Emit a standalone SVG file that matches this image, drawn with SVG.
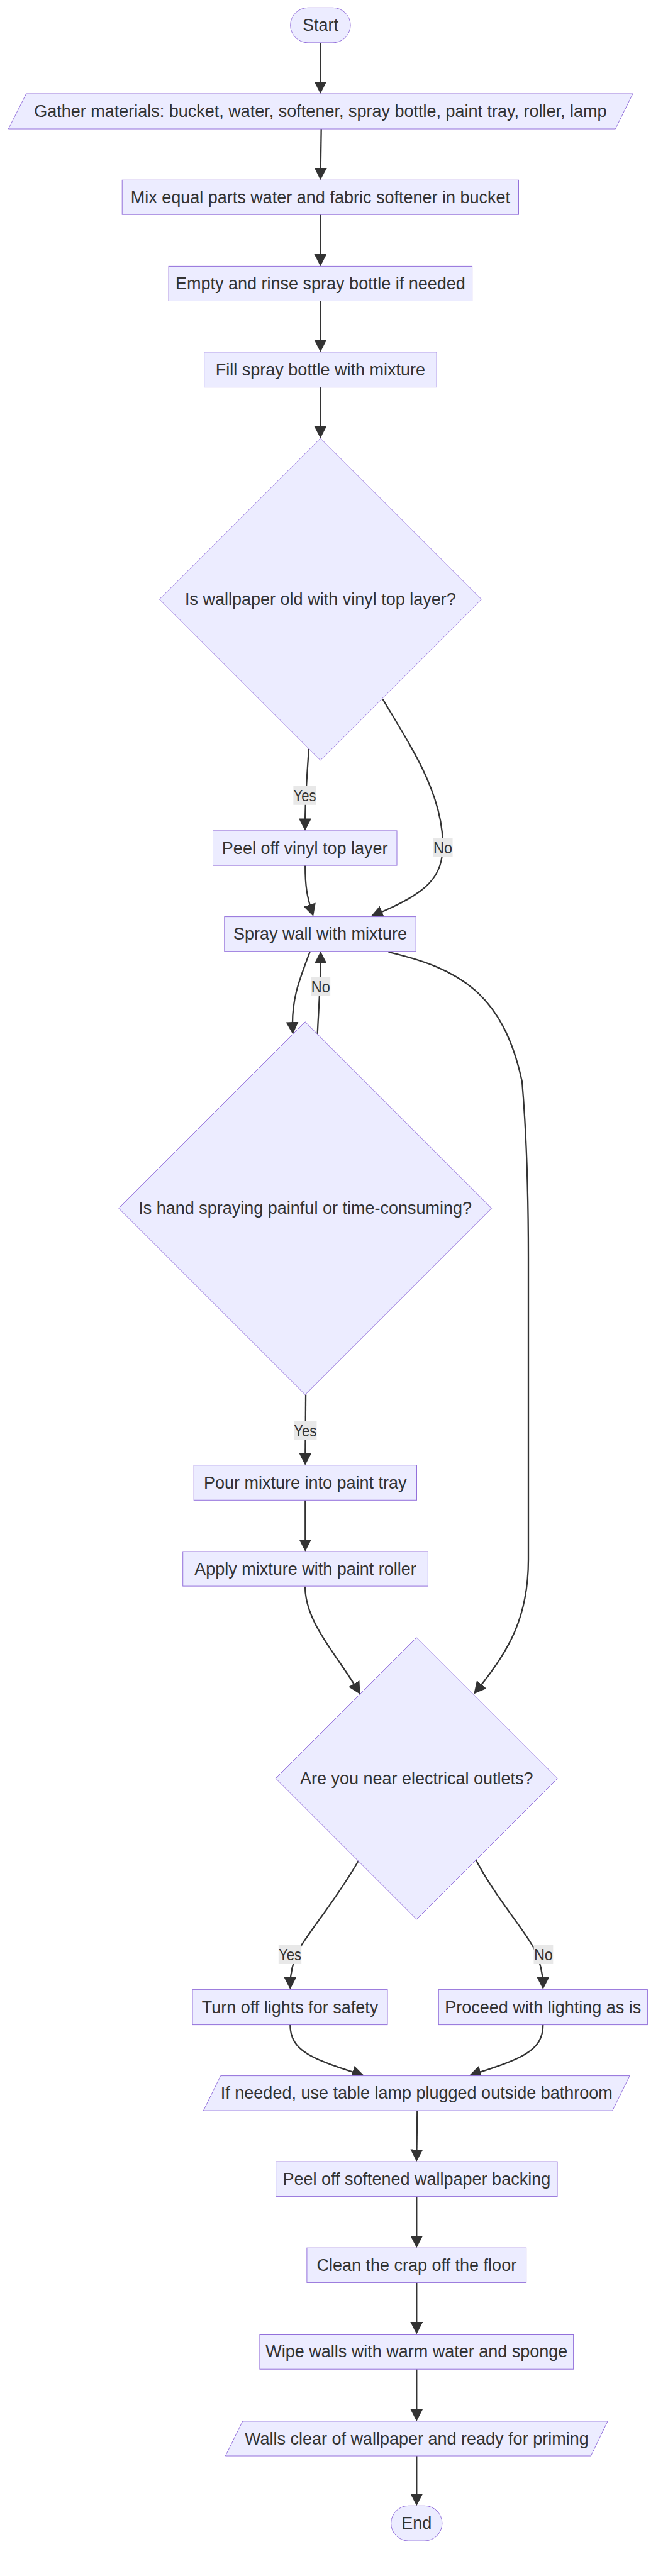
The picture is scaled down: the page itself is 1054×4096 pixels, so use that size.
<svg xmlns="http://www.w3.org/2000/svg" width="1054" height="4096" viewBox="0 0 1054 4096">
<style>
.node rect, .node polygon { fill: #ECECFF; stroke: #9370DB; stroke-width: 1; }
.node text { font-family: "Liberation Sans", Arial, sans-serif; font-size: 27px; fill: #333333; text-anchor: middle; dominant-baseline: central; }
.edges path { fill: none; stroke: #333333; stroke-width: 2.3; marker-end: url(#arrow); }
.elabel rect { fill: #e8e8e8; }
.elabel text { font-family: "Liberation Sans", Arial, sans-serif; font-size: 26px; fill: #333333; text-anchor: middle; dominant-baseline: central; }
</style>
<defs>
<marker id="arrow" viewBox="0 0 19.5 20" markerUnits="userSpaceOnUse" markerWidth="19.5" markerHeight="20" refX="13.5" refY="10" orient="auto">
<path d="M0,0 L19.5,10 L0,20 z" fill="#333333"/>
</marker>
</defs>
<rect width="1054" height="4096" fill="#ffffff"/>
<g class="edges" id="connectors">
<path d="M509.4,67.9 L509.4,143"/>
<path d="M510.7,205 L509.5,280.3"/>
<path d="M509.4,341.2 L509.4,417.4"/>
<path d="M509.4,478.5 L509.4,553.8"/>
<path d="M509.4,615.6 L509.4,690.9"/>
<path d="M490.9,1190.8 C488.5,1230 485,1265 485,1314.9"/>
<path d="M608.6,1111.8 C655,1190 702,1260 704,1340 C705,1395 680,1420 595,1455"/>
<path d="M485.2,1376.2 C485.2,1410 488,1425 496.3,1451.3"/>
<path d="M492.6,1513.8 C475,1560 463,1590 465.2,1638.5"/>
<path d="M504.7,1644.4 C506,1610 509.7,1570 509.7,1518.7"/>
<path d="M617.6,1513.8 C730,1540 800,1580 830,1720 C836,1790 840,1880 840,2000 L840,2480 C840,2570 810,2625 757.1,2688.8"/>
<path d="M486.1,2217.6 L485.2,2323.8"/>
<path d="M485.3,2385.3 L485.3,2461"/>
<path d="M485,2522.7 C485,2580 535,2630 569.6,2688.8"/>
<path d="M570.3,2958 C535,3020 492,3070 475,3100 C465,3120 461.3,3140 461.3,3157.1"/>
<path d="M756.9,2958 C790,3020 835,3070 850,3100 C859,3120 863.3,3140 863.3,3157.1"/>
<path d="M461.3,3219.6 C461.3,3262 497,3274 573.3,3298.7"/>
<path d="M863.3,3219.6 C863.3,3262 827.6,3274 751.3,3298.7"/>
<path d="M663.3,3356.6 L662.3,3431.1"/>
<path d="M662.3,3492.6 L662.3,3568.2"/>
<path d="M662.3,3629.4 L662.3,3705.5"/>
<path d="M662.3,3767.2 L662.3,3843.9"/>
<path d="M662.3,3905 L662.3,3978.3"/>
</g>
<g id="edge-labels">
<g class="elabel" id="label-yes-1"><rect x="466.35" y="1249.6" width="36.3" height="30.2"/><text x="484.5" y="1264.7" textLength="36" lengthAdjust="spacingAndGlyphs">Yes</text></g>
<g class="elabel" id="label-no-1"><rect x="688.65" y="1333" width="30.9" height="30"/><text x="704.1" y="1348" textLength="30" lengthAdjust="spacingAndGlyphs">No</text></g>
<g class="elabel" id="label-no-2"><rect x="494.25" y="1553.8" width="30.9" height="30"/><text x="509.7" y="1568.8" textLength="30" lengthAdjust="spacingAndGlyphs">No</text></g>
<g class="elabel" id="label-yes-2"><rect x="466.95" y="2259.4" width="36.5" height="30.2"/><text x="485.2" y="2274.5" textLength="36" lengthAdjust="spacingAndGlyphs">Yes</text></g>
<g class="elabel" id="label-yes-3"><rect x="442.8" y="3093" width="36.4" height="30"/><text x="461" y="3108" textLength="36" lengthAdjust="spacingAndGlyphs">Yes</text></g>
<g class="elabel" id="label-no-3"><rect x="848.5" y="3093" width="30.8" height="30"/><text x="863.9" y="3108" textLength="30" lengthAdjust="spacingAndGlyphs">No</text></g>
</g>
<g class="node" id="start"><rect x="461.7" y="12.3" width="95.4" height="55.6" rx="27.8" ry="27.8"/><text x="509.4" y="40.1">Start</text></g>
<g class="node" id="gather"><polygon points="41.7,149 1006,149 978.4,205 13.4,205"/><text x="509.4" y="177">Gather materials: bucket, water, softener, spray bottle, paint tray, roller, lamp</text></g>
<g class="node" id="mix"><rect x="194.2" y="286.3" width="630.3" height="54.9"/><text x="509.4" y="313.8">Mix equal parts water and fabric softener in bucket</text></g>
<g class="node" id="empty"><rect x="268.1" y="423.4" width="482.5" height="55.1"/><text x="509.4" y="451">Empty and rinse spray bottle if needed</text></g>
<g class="node" id="fill"><rect x="324.6" y="559.8" width="369.6" height="55.8"/><text x="509.4" y="587.7">Fill spray bottle with mixture</text></g>
<g class="node" id="vinyl-q"><polygon points="509.4,696.9 765.4,952.9 509.4,1208.9 253.4,952.9"/><text x="509.4" y="952.9">Is wallpaper old with vinyl top layer?</text></g>
<g class="node" id="peel-vinyl"><rect x="338.5" y="1320.9" width="292.5" height="55.2"/><text x="484.7" y="1348.5">Peel off vinyl top layer</text></g>
<g class="node" id="spray"><rect x="356.8" y="1457.6" width="304.4" height="55.1"/><text x="509" y="1485.2">Spray wall with mixture</text></g>
<g class="node" id="hand-q"><polygon points="485.1,1624.8 781.5,1921.2 485.1,2217.6 188.7,1921.2"/><text x="485.1" y="1921.2">Is hand spraying painful or time-consuming?</text></g>
<g class="node" id="pour"><rect x="308.2" y="2329.7" width="354.3" height="55.6"/><text x="485.3" y="2357.5">Pour mixture into paint tray</text></g>
<g class="node" id="apply"><rect x="290.7" y="2467" width="389.7" height="55.1"/><text x="485.5" y="2494.5">Apply mixture with paint roller</text></g>
<g class="node" id="outlets-q"><polygon points="662.3,2603.8 886.3,2827.8 662.3,3051.8 438.3,2827.8"/><text x="662.3" y="2827.8">Are you near electrical outlets?</text></g>
<g class="node" id="turn-off"><rect x="306" y="3163.6" width="310" height="56"/><text x="461" y="3191.6">Turn off lights for safety</text></g>
<g class="node" id="proceed"><rect x="697.3" y="3163.6" width="332.1" height="56"/><text x="863.3" y="3191.6">Proceed with lighting as is</text></g>
<g class="node" id="lamp"><polygon points="350.7,3300.6 1001.1,3300.6 973.7,3356.1 323.4,3356.1"/><text x="662.3" y="3328.4">If needed, use table lamp plugged outside bathroom</text></g>
<g class="node" id="peel-backing"><rect x="438.6" y="3437.1" width="447.4" height="55.5"/><text x="662.3" y="3464.9">Peel off softened wallpaper backing</text></g>
<g class="node" id="clean"><rect x="487.9" y="3574.2" width="348.7" height="55.2"/><text x="662.3" y="3601.8">Clean the crap off the floor</text></g>
<g class="node" id="wipe"><rect x="412.9" y="3711.5" width="498.7" height="55.7"/><text x="662.3" y="3739.4">Wipe walls with warm water and sponge</text></g>
<g class="node" id="walls"><polygon points="385.7,3849.9 966.1,3849.9 939.4,3905 358.4,3905"/><text x="662.3" y="3877.5">Walls clear of wallpaper and ready for priming</text></g>
<g class="node" id="end"><rect x="621.6" y="3984.3" width="81.3" height="55.8" rx="27.9" ry="27.9"/><text x="662.3" y="4012.2">End</text></g>
</svg>
